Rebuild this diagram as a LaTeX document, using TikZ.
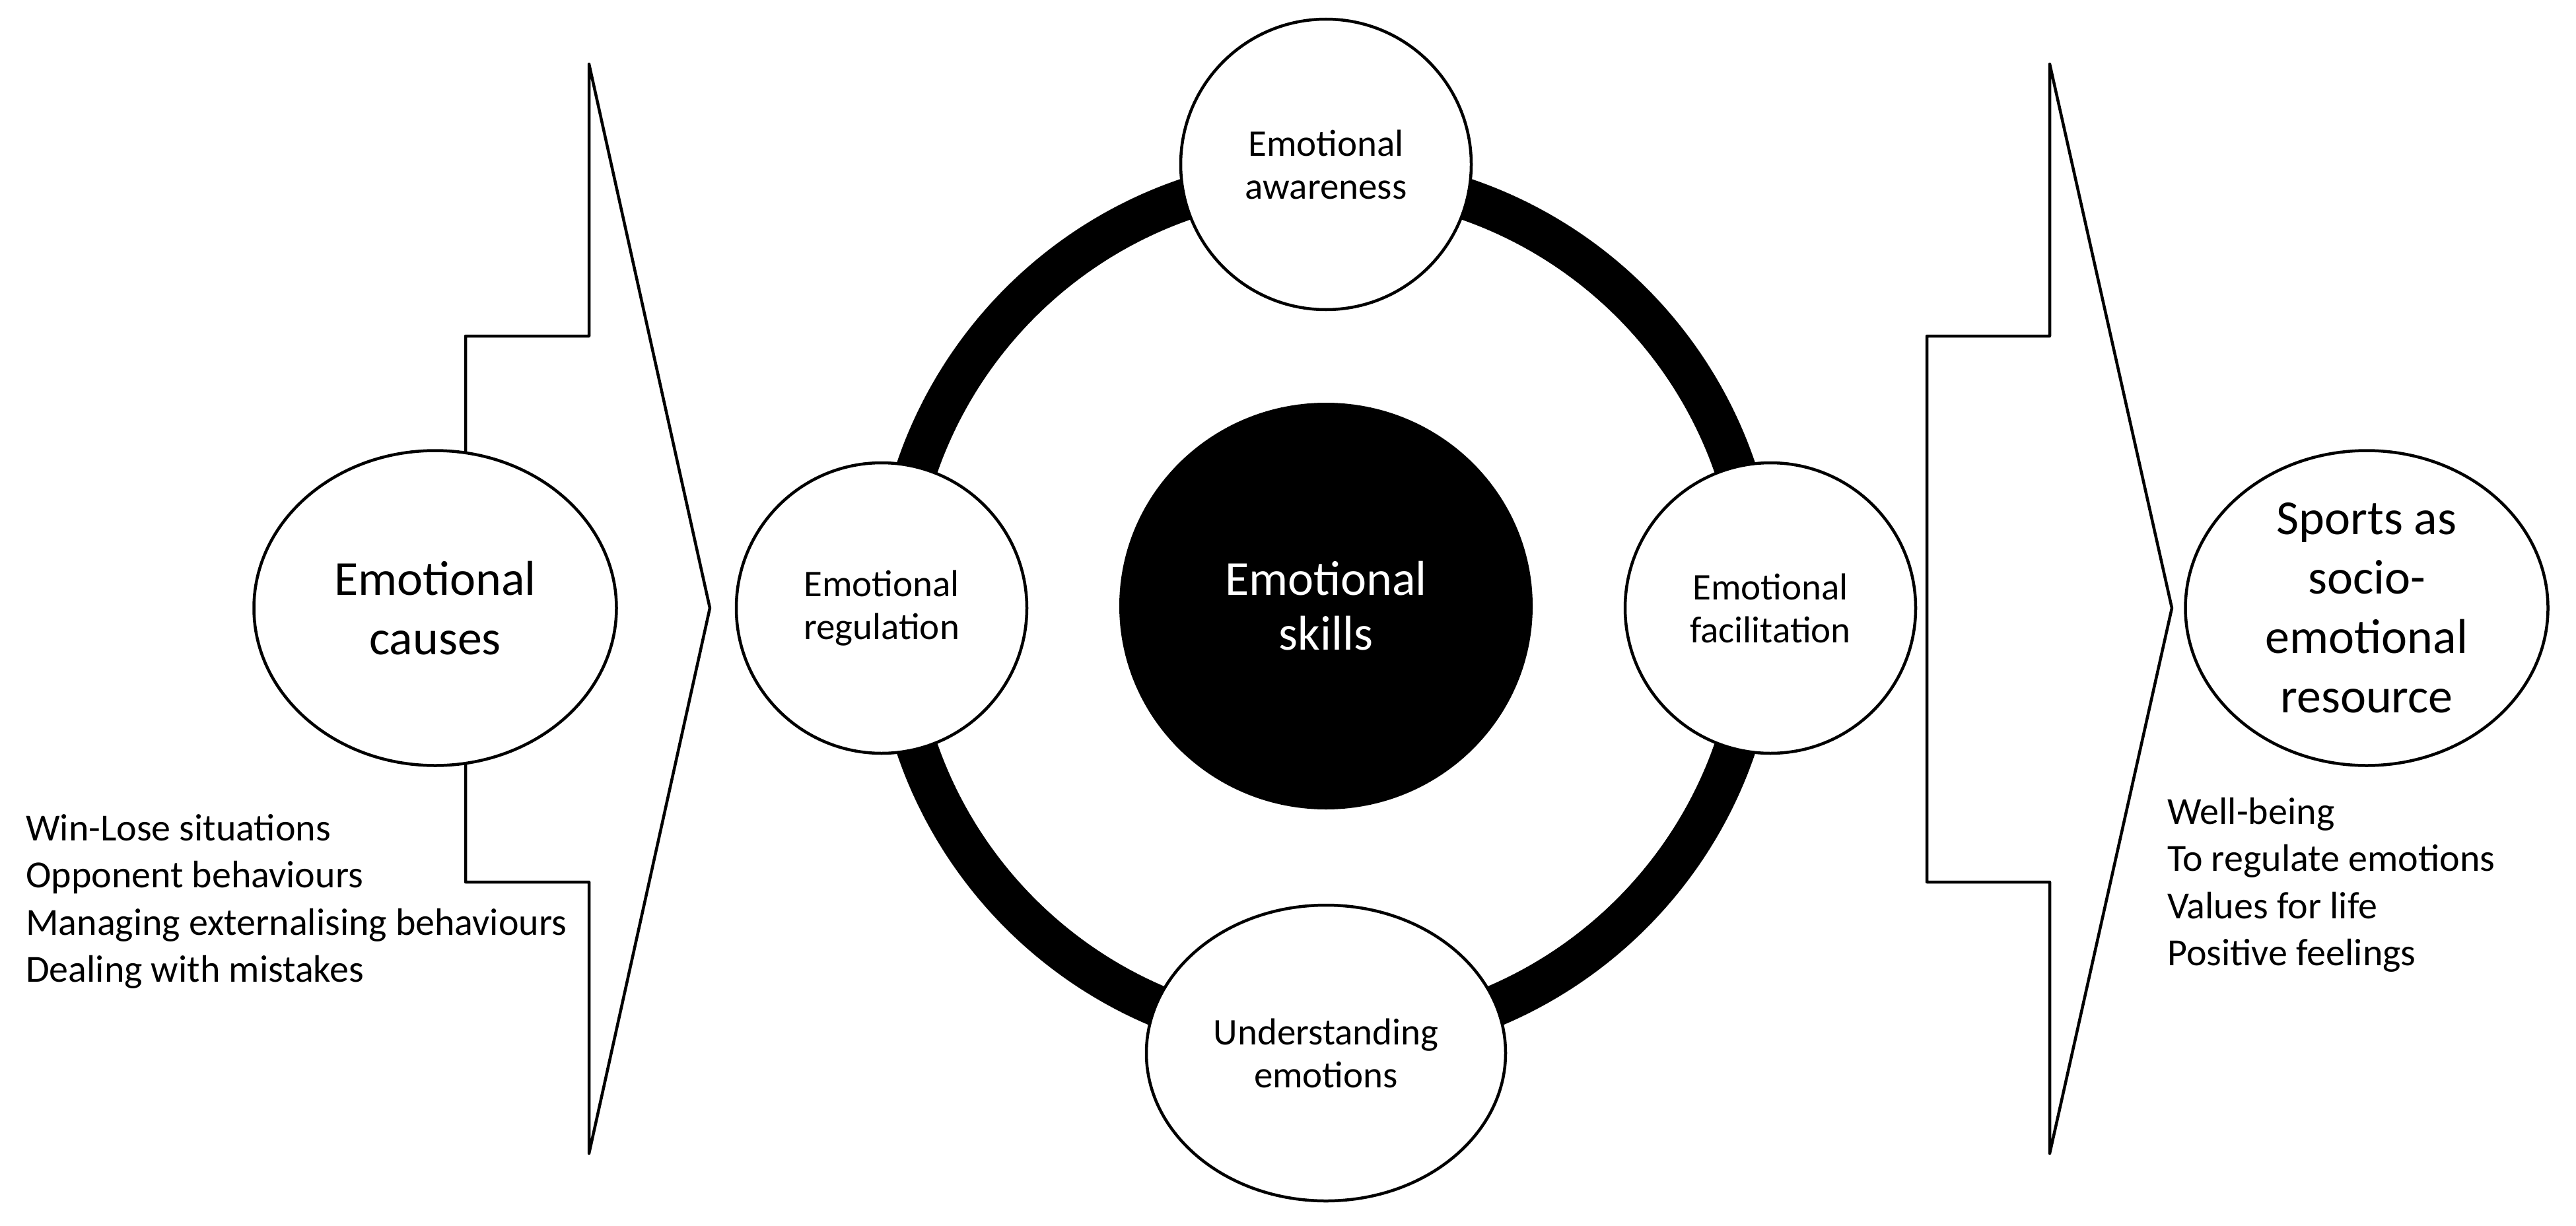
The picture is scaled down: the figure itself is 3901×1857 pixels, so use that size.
\documentclass[tikz,border=0pt]{standalone}
\usepackage{fontspec}
\setmainfont{Carlito}
\usetikzlibrary{shapes.geometric}
\begin{document}
\begin{tikzpicture}[x=1pt,y=-1pt,
  outline/.style={draw=black,line width=4.5pt},
  blockarrow/.style={outline,fill=white,line join=round},
  satcircle/.style={circle,outline,fill=white,inner sep=0pt,minimum size=440pt,align=center,font=\fontsize{57}{65}\selectfont},
  satellipse/.style={ellipse,outline,fill=white,inner sep=0pt,minimum width=544pt,minimum height=448pt,align=center,font=\fontsize{57}{65}\selectfont},
  bigellipse/.style={ellipse,outline,fill=white,inner sep=-60pt,minimum width=549pt,minimum height=477pt,align=center,font=\fontsize{74}{90}\selectfont},
  listtext/.style={inner sep=0pt,align=left,anchor=base west,font=\fontsize{58}{71.5}\selectfont}]
\useasboundingbox (0,0) rectangle (3901,1857);
\fill[white] (0,0) rectangle (3901,1857);
% block arrows
\draw[blockarrow] (705,509) -- (892,509) -- (892,97) -- (1075,921) -- (892,1747) -- (892,1336) -- (705,1336) -- cycle;
\draw[blockarrow] (2918,509) -- (3104,509) -- (3104,97) -- (3289,921) -- (3104,1747) -- (3104,1336) -- (2918,1336) -- cycle;
% ring
\node[circle,draw=black,line width=63pt,minimum size=1309pt,inner sep=0pt] (ring) at (2008,921) {};
% centre
\node[ellipse,fill=black,text=white,inner sep=0pt,minimum width=626pt,minimum height=616pt,align=center,font=\fontsize{74}{83}\selectfont] (skills) at (2008,918) {Emotional\\skills};
% satellites
\node[satcircle] (aware) at (2008,249) {Emotional\\awareness};
\node[satcircle] (regul) at (1335,921) {Emotional\\regulation};
\node[satcircle] (facil) at (2681,921) {Emotional\\facilitation};
\node[satellipse] (under) at (2008,1595) {Understanding\\emotions};
% side ellipses
\node[bigellipse] (causes) at (659,921) {Emotional\\causes};
\node[bigellipse] (resource) at (3584,921) {Sports as\\socio-\\emotional\\resource};
% lists (anchor = baseline of last line)
\node[listtext] (causeslist) at (39,1487.5) {Win-Lose situations\\Opponent behaviours\\Managing externalising behaviours\\Dealing with mistakes};
\node[listtext] (resourcelist) at (3282,1462.5) {Well-being\\To regulate emotions\\Values for life\\Positive feelings};
\end{tikzpicture}
\end{document}
